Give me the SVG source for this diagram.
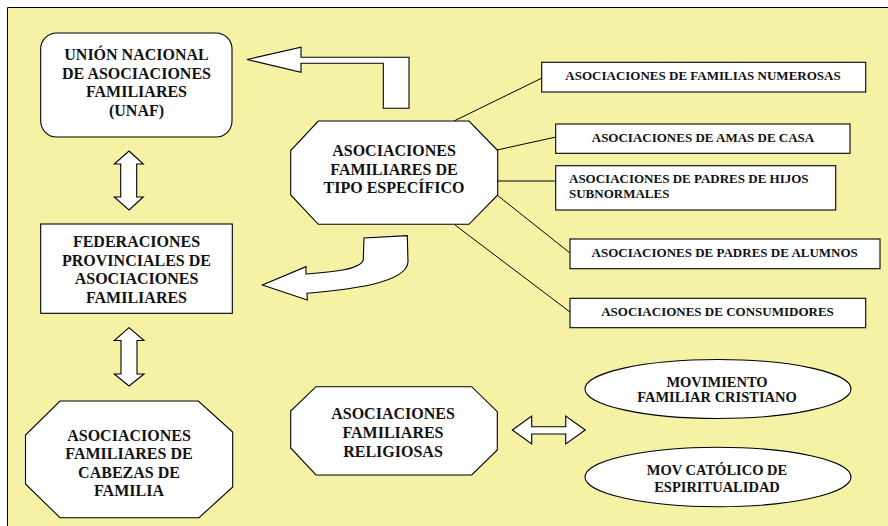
<svg xmlns="http://www.w3.org/2000/svg" width="888" height="526" viewBox="0 0 888 526">
<style>
.shape{fill:#fff;stroke:#000;stroke-width:1.1}
.ln{stroke:#000;stroke-width:1;fill:none}
.big{font-family:"Liberation Serif","Times New Roman",serif;font-weight:bold;font-size:16px;fill:#111;text-anchor:middle}
.mid{font-family:"Liberation Serif","Times New Roman",serif;font-weight:bold;font-size:14.5px;fill:#111;text-anchor:middle}
.sm{font-family:"Liberation Serif","Times New Roman",serif;font-weight:bold;font-size:13px;fill:#111;text-anchor:middle}
.left{text-anchor:start}
</style>
<rect x="0" y="0" width="888" height="526" fill="#fff"/>
<rect x="7.5" y="7.5" width="881" height="519" fill="#F5F2A6"/>
<path d="M7.5,526 L7.5,7.5 L888,7.5" stroke="#000" stroke-width="1" fill="none"/>

<g id="connectors">
<line class="ln" x1="454" y1="121" x2="542" y2="78"/>
<line class="ln" x1="497" y1="150" x2="556" y2="137"/>
<line class="ln" x1="497" y1="181" x2="556" y2="181"/>
<line class="ln" x1="497" y1="195" x2="570" y2="253"/>
<line class="ln" x1="455" y1="225" x2="570" y2="312"/>
<path class="shape" d="M247,59.5 L301,47.3 L301,57.3 L409,57.3 L409,108.3 L383.3,108.3 L383.3,63.3 L301,63.3 L301,72.3 Z"/>
<path class="shape" d="M262.3,285 L306,266.7 L306,274 C330,272 360,270 363.3,260 L364,238 L407.3,235.7 L408,262 C406,285 340,290 307,293.3 L307.3,300 Z"/>
<path class="shape" d="M129,151 L143.3,164 L136.7,164 L136.7,197 L143.3,197 L129,210 L114.3,197 L120.7,197 L120.7,164 L114.3,164 Z"/>
<path class="shape" d="M129,327.7 L144,340.5 L137,340.5 L137,374 L144,374 L129,386 L114.3,374 L121,374 L121,340.5 L114.3,340.5 Z"/>
<path class="shape" d="M512.3,430 L531.7,416 L531.7,426.7 L565.7,426.7 L565.7,416 L585.3,430 L565.7,444 L565.7,434 L531.7,434 L531.7,444 Z"/>
</g>

<g id="unaf">
<rect class="shape" x="40.7" y="33" width="191.3" height="104" rx="16" ry="16"/>
<text class="big" x="136.5" y="60">UNIÓN NACIONAL</text>
<text class="big" x="136.5" y="78.5">DE ASOCIACIONES</text>
<text class="big" x="136.5" y="97">FAMILIARES</text>
<text class="big" x="136.5" y="115.5">(UNAF)</text>
</g>

<g id="federaciones">
<rect class="shape" x="40.7" y="224" width="191.6" height="89.3"/>
<text class="big" x="136.5" y="246.7">FEDERACIONES</text>
<text class="big" x="136.5" y="265.5">PROVINCIALES DE</text>
<text class="big" x="136.5" y="284.3">ASOCIACIONES</text>
<text class="big" x="136.5" y="303">FAMILIARES</text>
</g>

<g id="cabezas">
<path class="shape" d="M60,401 L198.3,401 L232.7,432 L232.7,487 L199,517.7 L60,517.7 L25.5,484 L25.5,435 Z"/>
<text class="big" x="129" y="440.5">ASOCIACIONES</text>
<text class="big" x="129" y="459">FAMILIARES DE</text>
<text class="big" x="129" y="477.5">CABEZAS DE</text>
<text class="big" x="129" y="496">FAMILIA</text>
</g>

<g id="especifico">
<path class="shape" d="M318.3,121 L469,121 L497.7,150.5 L497.7,195 L469,224.3 L318.3,224.3 L290.7,195 L290.7,150.5 Z"/>
<text class="big" x="394" y="156">ASOCIACIONES</text>
<text class="big" x="394" y="174.5">FAMILIARES DE</text>
<text class="big" x="394" y="193">TIPO ESPECÍFICO</text>
</g>

<g id="religiosas">
<path class="shape" d="M316,386.7 L471.7,386.7 L497.3,411.7 L497.3,450 L471.7,475 L316,475 L290.7,448 L290.7,411 Z"/>
<text class="big" x="393" y="419">ASOCIACIONES</text>
<text class="big" x="393" y="437.8">FAMILIARES</text>
<text class="big" x="393" y="456.6">RELIGIOSAS</text>
</g>

<g id="numerosas">
<rect class="shape" x="541.7" y="62.3" width="324" height="29.7"/>
<text class="sm" x="703" y="80">ASOCIACIONES DE FAMILIAS NUMEROSAS</text>
</g>

<g id="amas">
<rect class="shape" x="555.7" y="124" width="294.3" height="29.3"/>
<text class="sm" x="703" y="142.3">ASOCIACIONES DE AMAS DE CASA</text>
</g>

<g id="subnormales">
<rect class="shape" x="555.7" y="165.7" width="280" height="44.3"/>
<text class="sm left" x="569" y="182.7">ASOCIACIONES DE PADRES DE HIJOS</text>
<text class="sm left" x="569" y="197.7">SUBNORMALES</text>
</g>

<g id="alumnos">
<rect class="shape" x="570" y="239" width="310" height="29.7"/>
<text class="sm" x="724.7" y="256.5">ASOCIACIONES DE PADRES DE ALUMNOS</text>
</g>

<g id="consumidores">
<rect class="shape" x="570" y="298.3" width="295.7" height="29.4"/>
<text class="sm" x="717.5" y="315.5">ASOCIACIONES DE CONSUMIDORES</text>
</g>

<g id="cristiano">
<ellipse class="shape" cx="718" cy="389" rx="133" ry="29.5"/>
<text class="mid" x="717" y="386.5">MOVIMIENTO</text>
<text class="mid" x="717" y="402.3">FAMILIAR CRISTIANO</text>
</g>

<g id="catolico">
<ellipse class="shape" cx="718" cy="477" rx="133" ry="29.7"/>
<text class="mid" x="717" y="475">MOV CATÓLICO DE</text>
<text class="mid" x="717" y="491.5">ESPIRITUALIDAD</text>
</g>
</svg>
